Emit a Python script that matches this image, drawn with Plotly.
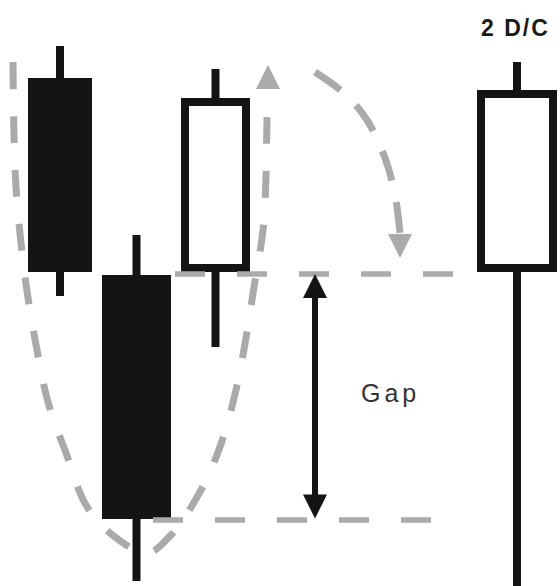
import plotly.graph_objects as go

# ---- data -------------------------------------------------------------
# candles: position on the time axis and prices (open/close are body edges)
candle_x = [60, 136.5, 215.5, 517]
candle_open = [100.8, 61.4, 63.6, 63.6]
candle_close = [63.6, 14.2, 96.8, 98.4]
candle_high = [108.0, 70.2, 103.4, 104.8]
candle_low = [58.0, 1.0, 47.8, 0.0]
candle_body_width = [56, 61, 61, 72]

# gap levels
gap_top = 62.4
gap_bottom = 13.2
gap_arrow_x = 315
gap_label = "Gap"
gap_label_x = 390
gap_label_y = 38.6

top_label = "2 D/C"
top_label_x = 515
top_label_y = 111.6

# dashed guide levels (start/end along time axis)
gap_top_line_x = [175, 455]
gap_bottom_line_x = [153, 433]

# dashed loop around first two candles
loop_x = [13, 14, 16, 21, 28, 37, 48, 66, 86, 110, 147, 171, 201, 221, 236, 246, 254, 263, 266, 267, 268]
loop_y = [104.8, 90.2, 79.8, 68.6, 57.6, 47.2, 36.8, 26.6, 16.2, 10.6, 6.6, 10.2, 19.2, 28.4, 39.2, 49.6, 59.8, 71.2, 81.8, 93.2, 98.8]
loop_tip = (268, 104.2)
loop_tip_base = (268, 99.2)

# dashed arc towards the fourth candle
arc_x = [315, 345, 367, 385, 395, 400]
arc_y = [102.8, 98.4, 93.2, 85.6, 78.2, 70.6]
arc_tip = (400, 65.6)
arc_tip_base = (400, 70.6)

# ---- styles -----------------------------------------------------------
BLACK = "#141414"
GRAY = "#a9abab"

fig = go.Figure()

# wicks
fig.add_trace(go.Bar(
    x=candle_x,
    base=candle_low,
    y=[h - l for h, l in zip(candle_high, candle_low)],
    width=[8] * len(candle_x),
    marker=dict(color=BLACK, line=dict(width=0)),
    hoverinfo="skip", showlegend=False,
))

# bodies
body_fill = [BLACK if c < o else "white" for o, c in zip(candle_open, candle_close)]
fig.add_trace(go.Bar(
    x=candle_x,
    base=candle_open,
    y=[c - o for o, c in zip(candle_open, candle_close)],
    width=candle_body_width,
    marker=dict(color=body_fill, line=dict(color=BLACK, width=8)),
    hoverinfo="skip", showlegend=False,
))

# dashed level lines
fig.add_trace(go.Scatter(
    x=gap_top_line_x, y=[gap_top, gap_top], mode="lines",
    line=dict(color=GRAY, width=5.5, dash="30px,32px"),
    hoverinfo="skip", showlegend=False,
))
fig.add_trace(go.Scatter(
    x=gap_bottom_line_x, y=[gap_bottom, gap_bottom], mode="lines",
    line=dict(color=GRAY, width=5.5, dash="30px,32px"),
    hoverinfo="skip", showlegend=False,
))

# dashed loop and arc
fig.add_trace(go.Scatter(
    x=loop_x, y=loop_y, mode="lines",
    line=dict(color=GRAY, width=7, dash="27px,27px", shape="spline", smoothing=1),
    hoverinfo="skip", showlegend=False,
))
fig.add_trace(go.Scatter(
    x=arc_x, y=arc_y, mode="lines",
    line=dict(color=GRAY, width=7, dash="31px,22px", shape="spline", smoothing=1),
    hoverinfo="skip", showlegend=False,
))

annotations = [
    # gray arrowheads
    dict(x=loop_tip[0], y=loop_tip[1], ax=loop_tip_base[0], ay=loop_tip_base[1],
         xref="x", yref="y", axref="x", ayref="y", text="", showarrow=True,
         arrowhead=2, arrowwidth=6, arrowsize=0.8, arrowcolor=GRAY),
    dict(x=arc_tip[0], y=arc_tip[1], ax=arc_tip_base[0], ay=arc_tip_base[1],
         xref="x", yref="y", axref="x", ayref="y", text="", showarrow=True,
         arrowhead=2, arrowwidth=6, arrowsize=0.8, arrowcolor=GRAY),
    # gap double arrow
    dict(x=gap_arrow_x, y=gap_top, ax=gap_arrow_x, ay=gap_bottom,
         xref="x", yref="y", axref="x", ayref="y", text="", showarrow=True,
         arrowside="end+start", arrowhead=2, startarrowhead=2,
         arrowwidth=6, arrowsize=0.8, startarrowsize=0.8, arrowcolor=BLACK),
    # labels
    dict(x=gap_label_x, y=gap_label_y, xref="x", yref="y", showarrow=False,
         text='<span style="letter-spacing:4px">' + gap_label + '</span>',
         font=dict(family="Liberation Sans, Arial, sans-serif", size=25, color="#333333")),
    dict(x=top_label_x, y=top_label_y, xref="x", yref="y", showarrow=False,
         text='<b><span style="letter-spacing:2px">' + top_label + '</span></b>',
         font=dict(family="Liberation Sans, Arial, sans-serif", size=23, color="#1a1a1a")),
]

fig.update_layout(
    width=560, height=586,
    margin=dict(l=0, r=0, t=0, b=0),
    paper_bgcolor="white", plot_bgcolor="white",
    barmode="overlay",
    showlegend=False,
    annotations=annotations,
    xaxis=dict(range=[0, 560], visible=False, showgrid=False, zeroline=False, fixedrange=True),
    yaxis=dict(range=[0, 117.2], visible=False, showgrid=False, zeroline=False, fixedrange=True),
)

fig.write_html(
    "out.html",
    config={"displayModeBar": False, "staticPlot": True},
    post_script="document.body.style.margin='0';document.body.style.overflow='hidden';",
)
